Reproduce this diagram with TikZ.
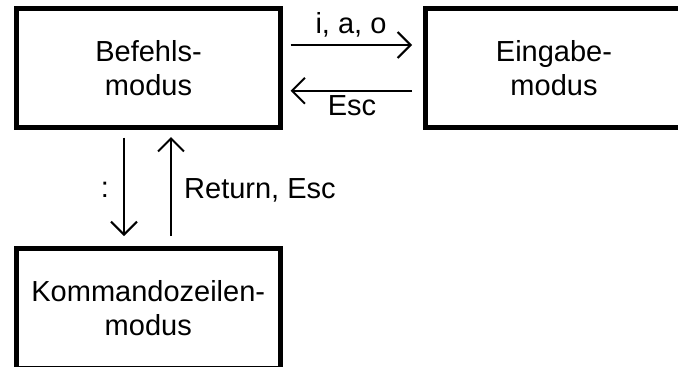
\documentclass[tikz,border=0pt]{standalone}
\usepackage{fontspec}
\setmainfont{Liberation Sans}
\usetikzlibrary{arrows.meta}
\begin{document}
\begin{tikzpicture}[x=1pt,y=-1pt,
  txt/.style={font=\fontsize{29}{34}\selectfont},
  box/.style={draw, line width=5pt, align=center, inner sep=0pt, outer sep=0pt, txt},
  conn/.style={line width=2pt, -{Straight Barb[length=13pt,width=26pt,line width=2pt]}},
  lbl/.style={txt, inner sep=0pt, anchor=base}]
\useasboundingbox (0,0) rectangle (678,367);
\node[box, minimum width=264pt, minimum height=118.5pt] (befehl) at (148.5,67.75) {Befehls-\\modus};
\node[txt, align=center, inner sep=0pt, outer sep=0pt, minimum width=258pt, minimum height=118.5pt] (eingabe) at (554,67.75) {Eingabe-\\modus};
\draw[line width=5pt] (eingabe.north west) rectangle ([xshift=20pt]eingabe.south east);
\node[box, minimum width=263.5pt, minimum height=120.5pt] (kommando) at (148.25,308.25) {Kommandozeilen-\\modus};
\draw[conn] ([shift={(10,-22.75)}]befehl.east) -- ([shift={(-13,-22.75)}]eingabe.west);
\draw[conn] ([shift={(-13,23)}]eingabe.west) -- ([shift={(10,23)}]befehl.east);
\draw[conn] ([shift={(-24.5,10.5)}]befehl.south) -- ([shift={(-24.25,-12)}]kommando.north);
\draw[conn] ([shift={(22.75,-12)}]kommando.north) -- ([shift={(22.5,10)}]befehl.south);
\node[lbl] (ialbl) at (351,33) {i, a, o};
\node[lbl] (esclbl) at (352,115) {Esc};
\node[lbl] (collbl) at (105,197) {:};
\node[lbl, anchor=base west] (retlbl) at (184,198) {Return, Esc};
\end{tikzpicture}
\end{document}
